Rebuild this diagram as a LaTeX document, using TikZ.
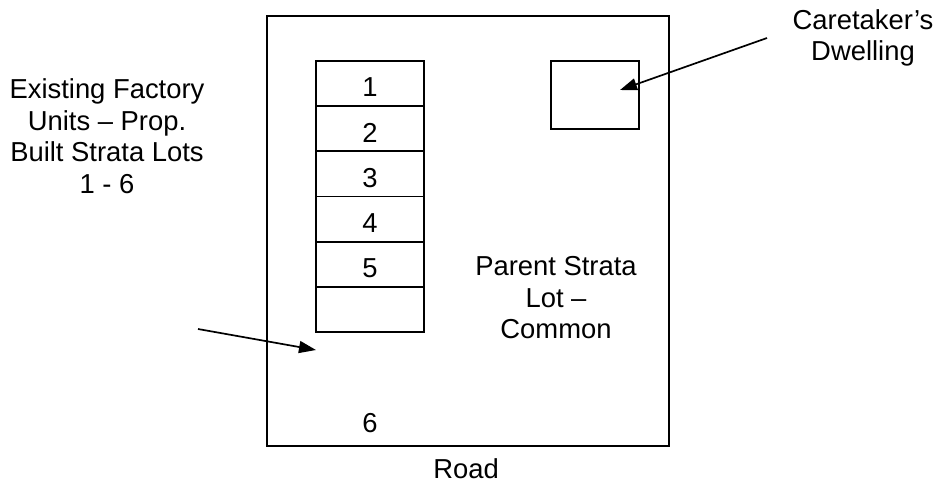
\documentclass[tikz,border=0pt]{standalone}
\usepackage{fontspec}
\setmainfont{Liberation Sans}
\usetikzlibrary{positioning,arrows.meta}

\begin{document}
\begin{tikzpicture}[x=1pt, y=-1pt, line width=1.7pt,
  box/.style = {draw, inner sep=0pt},
  txt/.style = {align=center, inner sep=0pt, font=\fontsize{27.4}{31.5}\selectfont},
  pointer/.style = {-{Triangle[length=17pt,width=12pt]}}]
\useasboundingbox (0,0) rectangle (939,483);
\node[box, minimum width=402pt, minimum height=430pt] (site) at (468,231) {};
\foreach \i/\t in {1/1,2/2,3/3,4/4,5/5,6/{}}
\node[box, txt, minimum width=108pt, minimum height=45.17pt, text height=26.6pt] (lot\i) at (370,{61+45.17*(\i-0.5)}) {\t};
\node[box, minimum width=88pt, minimum height=68pt] (dwelling) at (595,95) {};
\node[txt] (factory) at (107,136) {Existing Factory\\Units – Prop.\\Built Strata Lots\\1 - 6};
\node[txt] (caretaker) at (863,38) {Caretaker’s\\Dwelling};
\node[txt] (parent) at (556,298) {Parent Strata\\Lot –\\Common};
\node[txt] (six) at (370,423) {6};
\node[txt] (road) at (466,469) {Road};
\coordinate (factory tail) at (198,329);
\coordinate (factory tip) at (316,350);
\coordinate (dwelling tail) at (767,38);
\coordinate (dwelling tip) at (620,90);
\draw[pointer] (factory tail) -- (factory tip);
\draw[pointer] (dwelling tail) -- (dwelling tip);
\end{tikzpicture}
\end{document}
